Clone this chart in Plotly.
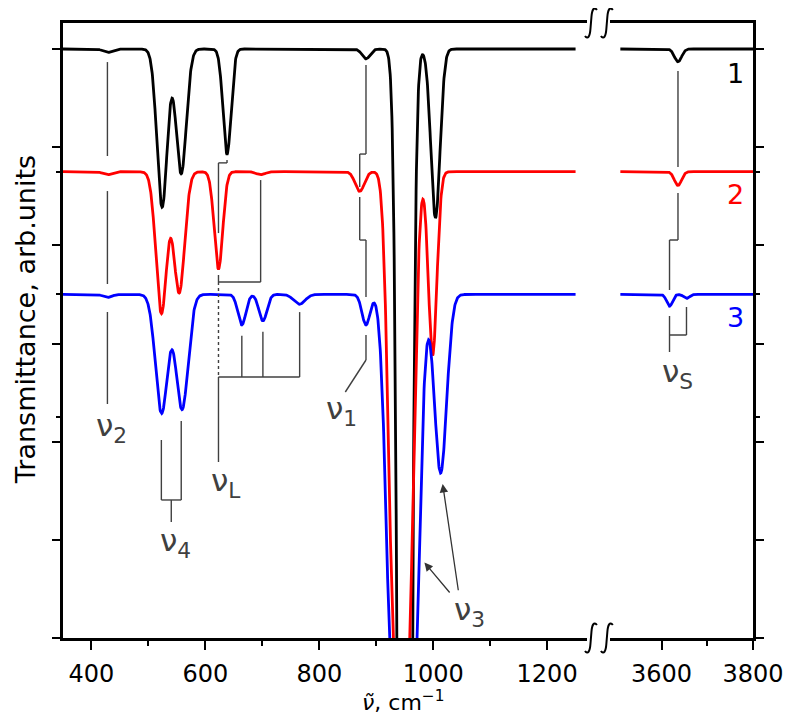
import numpy as np
import plotly.graph_objects as go

# ---------------- data ----------------
curve_labels = ["1", "2", "3"]
curve_colors = ["#000000", "#ff0000", "#0000ff"]
baselines = [6.0, 4.75, 3.5]

# absorption bands: centre (cm^-1), depth (arb. units), half-width (cm^-1), shape exponent
black_centres = [428, 524, 557.5, 638, 882, 950, 1004, 3636]
black_depths = [0.035, 1.61, 1.27, 1.07, 0.10, 22.0, 1.72, 0.13]
black_widths = [11, 12.7, 12.7, 9.9, 9.9, 12.1, 11.3, 11]
black_shapes = [2, 2, 2, 2, 2, 2, 2, 2]

red_centres = [428, 522.7, 554, 623, 697, 871, 944, 999, 3636]
red_depths = [0.03, 1.44, 1.23, 0.99, 0.03, 0.20, 6.0, 1.87, 0.14]
red_widths = [11, 13.4, 13.4, 10.6, 11, 11.3, 24.5, 10.5, 11]
red_shapes = [2, 2, 2, 2, 2, 2, 3, 2, 2]

blue_centres = [428, 523, 559, 664, 701, 765, 882, 947, 1013, 3617.5, 3655]
blue_depths = [0.03, 1.21, 1.17, 0.31, 0.27, 0.10, 0.31, 6.0, 1.82, 0.12, 0.04]
blue_widths = [11, 15, 15, 9.9, 9.9, 14, 9.9, 30, 15, 9, 9]
blue_shapes = [2, 2, 2, 2, 2, 2, 2, 3, 2, 2, 2]

left_span = [350, 1250]
right_span = [3510, 3800]

x_major_left = [400, 600, 800, 1000, 1200]
x_minor_left = [500, 700, 900, 1100]
x_major_right = [3600, 3800]
x_minor_right = [3700]
y_major = [0, 1, 2, 3, 4, 5, 6]
y_minor = [2.25, 3.5, 4.75]

# band-assignment labels: text, x, y, panel
band_labels = ["ν<sub>2</sub>", "ν<sub>4</sub>", "ν<sub>L</sub>", "ν<sub>1</sub>", "ν<sub>3</sub>", "ν<sub>S</sub>"]
band_label_x = [435.4, 547.1, 636.1, 838.6, 1063.7, 3634]
band_label_y = [2.149, 0.968, 1.589, 2.322, 0.265, 2.699]
band_label_panel = [1, 1, 1, 1, 1, 2]

# ---------------- build curves ----------------
bands = [
    (black_centres, black_depths, black_widths, black_shapes),
    (red_centres, red_depths, red_widths, red_shapes),
    (blue_centres, blue_depths, blue_widths, blue_shapes),
]


def spectrum(x, base, centres, depths, widths, shapes):
    y = np.full_like(x, base, dtype=float)
    for c, d, w, p in zip(centres, depths, widths, shapes):
        y -= d * np.exp(-np.abs((x - c) / w) ** p)
    return y


xl = np.arange(left_span[0], left_span[1] + 0.01, 0.5)
xr = np.arange(right_span[0], right_span[1] + 0.01, 0.5)

fig = go.Figure()
for i in range(3):
    c, d, w, p = bands[i]
    fig.add_trace(go.Scatter(x=xl, y=spectrum(xl, baselines[i], c, d, w, p), mode="lines",
                             line=dict(color=curve_colors[i], width=2.8), xaxis="x", yaxis="y",
                             hoverinfo="skip"))
    fig.add_trace(go.Scatter(x=xr, y=spectrum(xr, baselines[i], c, d, w, p), mode="lines",
                             line=dict(color=curve_colors[i], width=2.8), xaxis="x2", yaxis="y2",
                             hoverinfo="skip"))

# ---------------- geometry (page body adds an 8px offset) ----------------
OFF = 8
W, H = 796 - OFF, 724 - 2 * OFF
L, T = 63 - OFF, 23 - OFF
R = W - (757 - OFF)
B = H - (638 - OFF)
PW, PH = W - L - R, H - T - B


def px(xp):
    return (xp - OFF - L) / PW


def py(yp):
    return (H - B - (yp - OFF)) / PH


GRAY = "#404040"
shapes = []


def seg(x0, y0, x1, y1, panel=1, dash="solid"):
    shapes.append(dict(type="line", xref="x" if panel == 1 else "x2", yref="y" if panel == 1 else "y2",
                       x0=x0, y0=y0, x1=x1, y1=y1, line=dict(color=GRAY, width=1.4, dash=dash)))


# nu2
seg(428, 5.867, 428, 4.91)
seg(428, 4.553, 428, 3.606)
seg(428, 3.321, 428, 2.384)
# nu4
seg(522.7, 2.017, 522.7, 1.406)
seg(557.6, 2.21, 557.6, 1.406)
seg(522.7, 1.406, 557.6, 1.406)
seg(540.1, 1.406, 540.1, 1.182)
# nuL
seg(638, 4.87, 638, 4.84)
seg(638, 4.84, 623, 4.84)
seg(623, 4.84, 623, 4.125)
seg(623, 3.698, 623, 3.626)
seg(623, 3.626, 697, 3.626)
seg(697, 4.665, 697, 3.626)
seg(623, 3.626, 623, 2.659, dash="dot")
seg(623, 2.659, 765.5, 2.659)
seg(664, 3.08, 664, 2.659)
seg(701, 3.12, 701, 2.659)
seg(765.5, 3.32, 765.5, 2.659)
seg(623, 2.659, 623, 1.793)
# nu1
seg(882, 5.837, 882, 4.93)
seg(882, 4.93, 871, 4.93)
seg(871, 4.93, 871, 4.594)
seg(871, 4.492, 871, 4.054)
seg(871, 4.054, 882, 4.054)
seg(882, 4.054, 882, 3.474)
seg(882, 3.086, 882, 2.832)
seg(882, 2.832, 845.7, 2.506)
# nuS
seg(3636, 5.776, 3636, 4.798, 2)
seg(3636, 4.533, 3636, 4.054, 2)
seg(3636, 4.054, 3617.5, 4.054, 2)
seg(3617.5, 4.054, 3617.5, 3.545, 2)
seg(3617.5, 3.28, 3617.5, 2.913, 2)
seg(3654.6, 3.372, 3654.6, 3.086, 2)
seg(3617.5, 3.086, 3654.6, 3.086, 2)


# axis-break marks
def brk(cx, cy):
    p = lambda a, b: f"{px(a):.5f},{py(b):.5f}"
    return (f"M {p(cx + 6, cy - 13)} C {p(cx + 3, cy - 17)} {p(cx + 1, cy - 13)} {p(cx + 0.5, cy - 6)} "
            f"L {p(cx - 0.5, cy + 6)} C {p(cx - 1, cy + 13)} {p(cx - 3, cy + 17)} {p(cx - 6, cy + 13)}")


for cx in (594, 610):
    for cy in (23, 638):
        shapes.append(dict(type="path", xref="paper", yref="paper", path=brk(cx, cy),
                           line=dict(color="black", width=2)))

annotations = []
for t, x, y, pnl in zip(band_labels, band_label_x, band_label_y, band_label_panel):
    annotations.append(dict(text=t, x=x, y=y, xref="x" if pnl == 1 else "x2", yref="y" if pnl == 1 else "y2",
                            showarrow=False, font=dict(size=31, color=GRAY), xanchor="center", yanchor="middle"))

# nu3 arrows
for tip, tail in [((984.6, 0.769), (1031.1, 0.448)), ((1016.6, 1.569), (1044.5, 0.471))]:
    annotations.append(dict(text="", x=tip[0], y=tip[1], ax=tail[0], ay=tail[1], xref="x", yref="y",
                            axref="x", ayref="y", showarrow=True, arrowhead=2, arrowsize=1.3,
                            arrowwidth=1.3, arrowcolor="#333333", standoff=0, font=dict(size=10)))

# curve numbers
for i in range(3):
    annotations.append(dict(text=curve_labels[i], x=3762, y=[5.755, 4.513, 3.26][i], xref="x2", yref="y2",
                            showarrow=False, font=dict(size=27, color=curve_colors[i]),
                            xanchor="center", yanchor="middle"))

# axis titles
annotations.append(dict(text="Transmittance, arb.units", x=px(25), y=py(320), xref="paper", yref="paper",
                        textangle=-90, showarrow=False, font=dict(size=27, color="black"),
                        xanchor="center", yanchor="middle"))
annotations.append(dict(text="<i>ν̃</i>, cm<sup>−1</sup>", x=px(405), y=py(716), xref="paper", yref="paper",
                        showarrow=False, font=dict(size=22, color="black"), xanchor="center", yanchor="bottom",
                        borderpad=0))

axis_common = dict(showline=True, linecolor="black", linewidth=2.5, showgrid=False, zeroline=False,
                   ticks="outside", tickcolor="black", tickwidth=2)

fig.update_layout(
    width=W, height=H, margin=dict(l=L, r=R, t=T, b=B),
    plot_bgcolor="white", paper_bgcolor="white", showlegend=False,
    font=dict(family="DejaVu Sans", size=24, color="black"),
    xaxis=dict(domain=[0, 527 / PW], range=[350, 1270], tickvals=x_major_left, ticklen=9, mirror=True,
               anchor="y", ticklabelstandoff=3,
               minor=dict(tickvals=x_minor_left, ticks="outside", ticklen=5, tickwidth=2, tickcolor="black"),
               **axis_common),
    xaxis2=dict(domain=[550 / PW, 1], range=[3487, 3800], tickvals=x_major_right, ticklen=9, mirror=True,
                anchor="y2", ticklabelstandoff=3,
                minor=dict(tickvals=x_minor_right, ticks="outside", ticklen=5, tickwidth=2, tickcolor="black"),
                **axis_common),
    yaxis=dict(domain=[0, 1], range=[0, 6.265], tickvals=y_major, ticklen=8, showticklabels=False, anchor="x",
               minor=dict(tickvals=y_minor, ticks="outside", ticklen=4, tickwidth=2, tickcolor="black"),
               **axis_common),
    yaxis2=dict(domain=[0, 1], range=[0, 6.265], tickvals=y_major, ticklen=8, showticklabels=False,
                anchor="x2", side="right",
                minor=dict(tickvals=y_minor, ticks="outside", ticklen=4, tickwidth=2, tickcolor="black"),
                **axis_common),
    shapes=shapes, annotations=annotations,
)

fig.write_html("out.html")
